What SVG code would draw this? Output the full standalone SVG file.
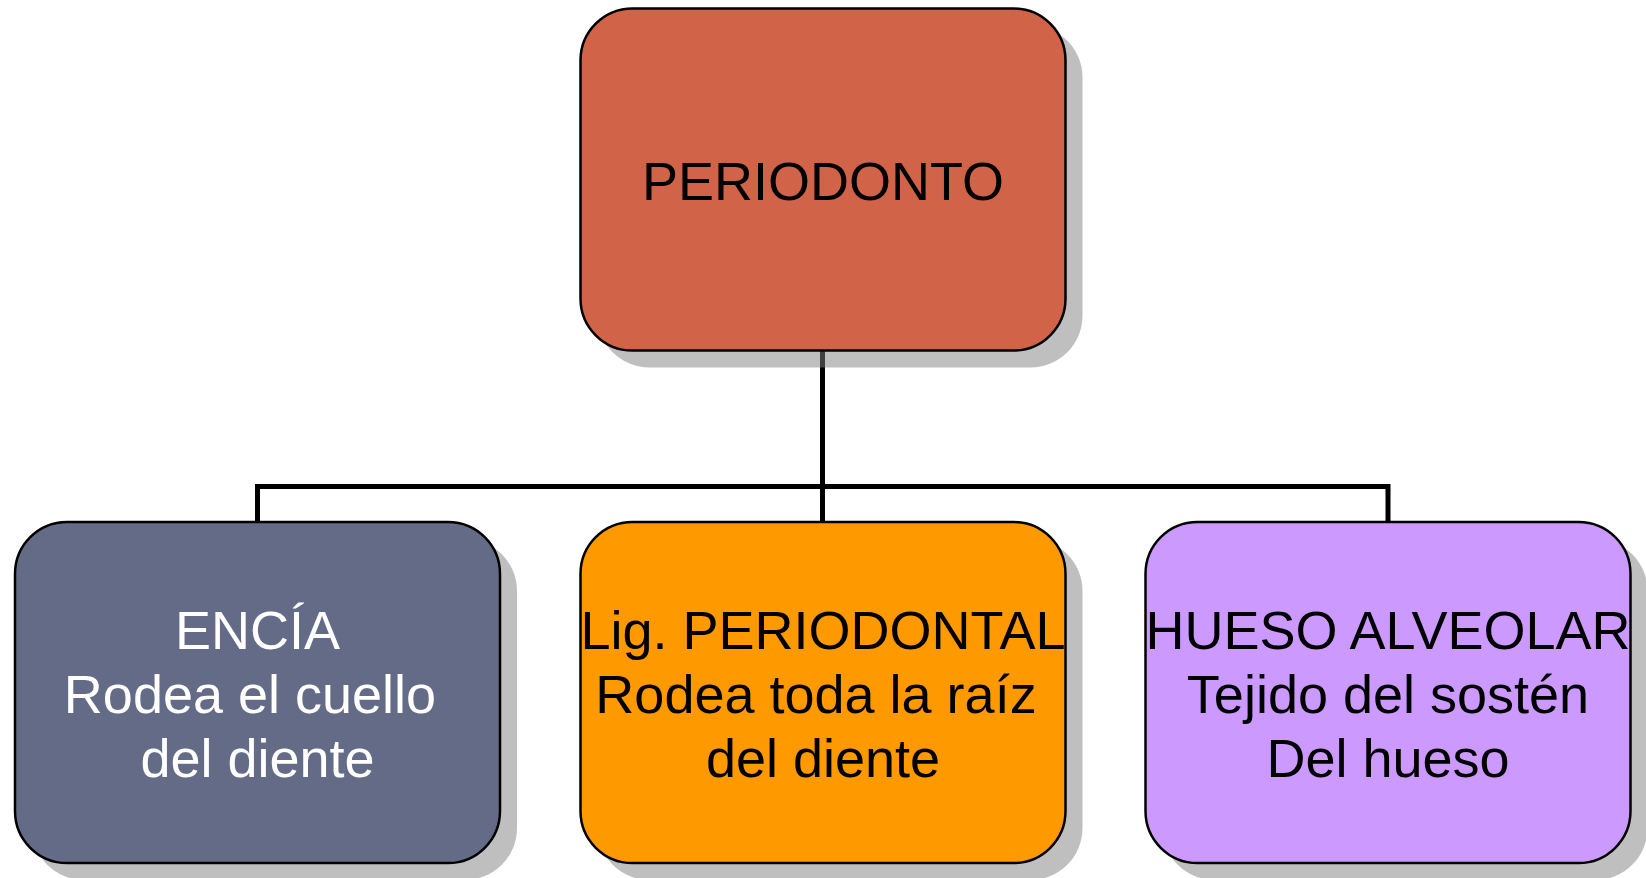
<svg xmlns="http://www.w3.org/2000/svg" width="1646" height="878" viewBox="0 0 1646 878">
<style>
.box{stroke:#000;stroke-width:2.5}
.shadow{fill:#808080;opacity:0.5}
.conn{fill:none;stroke:#000;stroke-width:5}
text{font-family:"Liberation Sans",Arial,sans-serif;font-size:54px;text-anchor:middle}
.dark{fill:#000}
.light{fill:#fff}
</style>
<rect width="1646" height="878" fill="#fff"/>
<g id="connectors">
<path class="conn" d="M822.5,350 V486.5 M257.5,522 V486.5 H1388 V522 M822.5,486.5 V522"/>
</g>
<g id="periodonto">
<rect class="shadow" x="597.5" y="25.5" width="485" height="342" rx="52"/>
<rect class="box" x="580.5" y="8.5" width="485" height="342" rx="52" fill="#D16349"/>
<text class="dark" x="823" y="200">PERIODONTO</text>
</g>
<g id="encia">
<rect class="shadow" x="32" y="539" width="485" height="341" rx="52"/>
<rect class="box" x="15" y="522" width="485" height="341" rx="52" fill="#646B86"/>
<text class="light" x="257.5" y="649">ENCÍA</text>
<text class="light" x="250" y="713">Rodea el cuello</text>
<text class="light" x="257.5" y="777">del diente</text>
</g>
<g id="ligamento">
<rect class="shadow" x="597.5" y="539" width="485" height="341" rx="52"/>
<rect class="box" x="580.5" y="522" width="485" height="341" rx="52" fill="#FF9900"/>
<text class="dark" x="823" y="649">Lig. PERIODONTAL</text>
<text class="dark" x="816" y="713">Rodea toda la raíz</text>
<text class="dark" x="823" y="777">del diente</text>
</g>
<g id="hueso">
<rect class="shadow" x="1162.5" y="539" width="485" height="341" rx="52"/>
<rect class="box" x="1145.5" y="522" width="485" height="341" rx="52" fill="#CC99FF"/>
<text class="dark" x="1388" y="649">HUESO ALVEOLAR</text>
<text class="dark" x="1388" y="713">Tejido del sostén</text>
<text class="dark" x="1388" y="777">Del hueso</text>
</g>
</svg>
